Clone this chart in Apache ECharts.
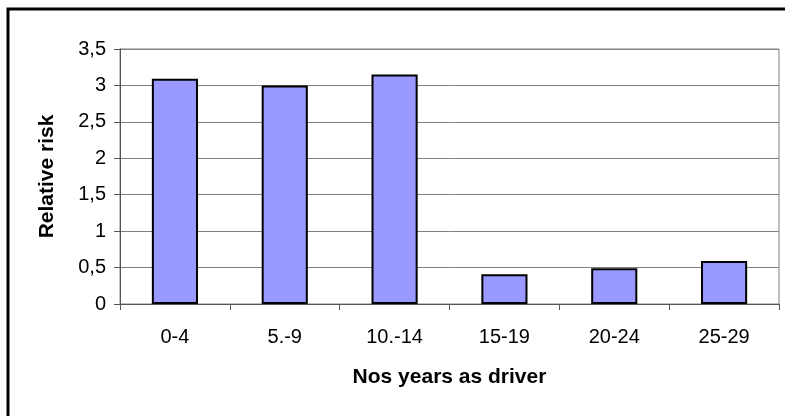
<!DOCTYPE html>
<html>
<head>
<meta charset="utf-8">
<script src="https://cdn.jsdelivr.net/npm/echarts@6/dist/echarts.min.js"></script>
<style>
html,body{margin:0;padding:0;background:#fff;}
#chart{width:785px;height:416px;}
</style>
</head>
<body>
<div id="chart"></div>
<script>
const categories = ["0-4", "5.-9", "10.-14", "15-19", "20-24", "25-29"];
const relativeRisk = [3.09, 3.0, 3.15, 0.41, 0.49, 0.59];
const yTicks = [0, 0.5, 1, 1.5, 2, 2.5, 3, 3.5];

const chart = echarts.init(document.getElementById('chart'), null, {renderer: 'canvas'});
const font = '"Liberation Sans", Arial, sans-serif';
chart.setOption({
  animation: false,
  backgroundColor: '#ffffff',
  graphic: [{
    type: 'rect',
    shape: {x: 8, y: 9, width: 800, height: 430},
    style: {fill: 'none', stroke: '#000', lineWidth: 3},
    silent: true, z: 100
  }],
  grid: {
    left: 120, top: 49, right: 6, bottom: 112,
    show: true, borderColor: '#808080', borderWidth: 1, backgroundColor: '#fff'
  },
  xAxis: {
    type: 'category',
    data: categories,
    boundaryGap: true,
    name: 'Nos years as driver',
    nameLocation: 'middle',
    nameGap: 63,
    nameTextStyle: {fontFamily: font, fontSize: 21, fontWeight: 'bold', color: '#000'},
    axisLine: {lineStyle: {color: '#555', width: 1}},
    axisTick: {show: true, length: 6, lineStyle: {color: '#555'}},
    axisLabel: {fontFamily: font, fontSize: 20, color: '#000', margin: 23},
    splitLine: {show: false}
  },
  yAxis: {
    type: 'value',
    min: 0, max: 3.5, interval: 0.5,
    name: 'Relative risk',
    nameLocation: 'middle',
    nameGap: 62,
    nameRotate: 90,
    nameTextStyle: {fontFamily: font, fontSize: 21, fontWeight: 'bold', color: '#000'},
    axisLine: {show: true, lineStyle: {color: '#555', width: 1}},
    axisTick: {show: true, length: 6, lineStyle: {color: '#555'}},
    axisLabel: {
      fontFamily: font, fontSize: 20, color: '#000', margin: 14,
      formatter: v => yTicks.includes(v) ? String(v).replace('.', ',') : ''
    },
    splitLine: {show: true, lineStyle: {color: '#808080', width: 1}}
  },
  series: [{
    type: 'bar',
    data: relativeRisk,
    barWidth: '42%',
    itemStyle: {color: '#9999FF', borderColor: '#000', borderWidth: 2}
  }]
});
</script>
</body>
</html>
